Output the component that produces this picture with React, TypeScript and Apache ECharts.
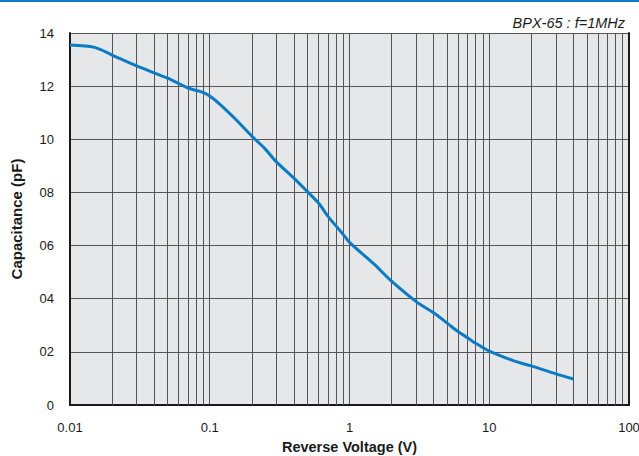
import React, { useEffect, useRef } from "react";
import * as echarts from "echarts";

const voltage = [0.01, 0.015, 0.02, 0.03, 0.04, 0.05, 0.06, 0.07, 0.08, 0.09, 0.1, 0.12, 0.15, 0.2, 0.25, 0.3, 0.4, 0.5, 0.6, 0.7, 0.8, 0.9, 1, 1.5, 2, 3, 4, 5, 6, 7, 8, 9, 10, 15, 20, 30, 40];
const capacitance = [13.55, 13.46, 13.17, 12.76, 12.5, 12.3, 12.1, 11.93, 11.84, 11.76, 11.63, 11.29, 10.8, 10.12, 9.63, 9.15, 8.54, 8.03, 7.6, 7.11, 6.74, 6.42, 6.12, 5.3, 4.66, 3.89, 3.47, 3.08, 2.76, 2.53, 2.32, 2.16, 2.03, 1.66, 1.47, 1.17, 0.98];
const decades = [0.01, 0.1, 1, 10];
const multipliers = [2, 3, 4, 5, 6, 7, 8, 9];
const yTicks = [0, 2, 4, 6, 8, 10, 12, 14];
const titleText = "BPX-65 : f=1MHz";
const xName = "Reverse Voltage (V)";
const yName = "Capacitance (pF)";

const FONT = "'Liberation Sans', Arial, Helvetica, sans-serif";

export default function App() {
  const ref = useRef<HTMLDivElement>(null);
  useEffect(() => {
    if (!ref.current) return;
    const chart = echarts.init(ref.current, null, { renderer: "svg" });
    const minorLines: any[] = [];
    decades.forEach((d) => multipliers.forEach((m) => minorLines.push({ xAxis: +(d * m).toPrecision(3) })));
    const gridColor = "#555555";
    chart.setOption({
      animation: false,
      backgroundColor: "#ffffff",
      textStyle: { fontFamily: FONT },
      title: {
        text: titleText,
        right: 9,
        top: 10,
        textStyle: { fontFamily: FONT, fontStyle: "italic", fontWeight: "normal", fontSize: 14.5, color: "#1a1a1a" },
      },
      graphic: [
        { type: "rect", shape: { x: 0, y: 0, width: 639, height: 2 }, style: { fill: "#0a7bc4" } },
      ],
      grid: {
        left: 70,
        right: 10,
        top: 33,
        bottom: 51,
        show: true,
        backgroundColor: "#e6e7e9",
        borderWidth: 0,
        outerBoundsMode: "none",
        containLabel: false,
      },
      xAxis: [
        {
          type: "log",
          logBase: 10,
          min: 0.01,
          max: 100,
          name: xName,
          nameLocation: "middle",
          nameGap: 34,
          nameMoveOverlap: false,
          nameTextStyle: { fontFamily: FONT, fontWeight: "bold", fontSize: 14.5, color: "#1a1a1a" },
          axisLine: { show: true, lineStyle: { color: "#1a1a1a", width: 2 } },
          axisTick: { show: false },
          axisLabel: {
            margin: 16,
            fontFamily: FONT,
            fontSize: 13,
            color: "#1a1a1a",
            formatter: (v: number) => String(+(+v).toPrecision(3)),
          },
          splitLine: { show: true, lineStyle: { color: gridColor, width: 1 } },
          minorTick: { show: false },
        },
        {
          type: "log",
          logBase: 10,
          min: 0.01,
          max: 100,
          position: "top",
          axisLine: { show: true, lineStyle: { color: "#1a1a1a", width: 2 } },
          axisTick: { show: false },
          axisLabel: { show: false },
          splitLine: { show: false },
        },
      ],
      yAxis: [
        {
          type: "value",
          min: 0,
          max: 14,
          interval: 2,
          name: yName,
          nameLocation: "middle",
          nameGap: 46,
          nameMoveOverlap: false,
          nameTextStyle: { fontFamily: FONT, fontWeight: "bold", fontSize: 15, color: "#1a1a1a" },
          axisLine: { show: true, lineStyle: { color: "#1a1a1a", width: 2 } },
          axisTick: { show: false },
          axisLabel: {
            margin: 16,
            fontFamily: FONT,
            fontSize: 13,
            color: "#1a1a1a",
            formatter: (v: number) => {
              const t = yTicks.find((k) => Math.abs(k - v) < 1e-6);
              const val = t === undefined ? v : t;
              if (val === 0) return "0";
              return val < 10 ? "0" + val : String(val);
            },
          },
          splitLine: { show: true, lineStyle: { color: gridColor, width: 1 } },
        },
        {
          type: "value",
          min: 0,
          max: 14,
          interval: 2,
          position: "right",
          axisLine: { show: true, lineStyle: { color: "#1a1a1a", width: 2 } },
          axisTick: { show: false },
          axisLabel: { show: false },
          splitLine: { show: false },
        },
      ],
      series: [
        {
          type: "line",
          xAxisIndex: 0,
          yAxisIndex: 0,
          data: voltage.map((v, i) => [v, capacitance[i]]),
          smooth: 0.3,
          showSymbol: false,
          symbol: "none",
          lineStyle: { color: "#0a7bc4", width: 3 },
          z: 5,
          markLine: {
            silent: true,
            symbol: "none",
            label: { show: false },
            animation: false,
            lineStyle: { color: gridColor, width: 1, type: "solid" },
            data: minorLines,
            z: 1,
          },
        },
      ],
    });
    return () => chart.dispose();
  }, []);
  return <div ref={ref} style={{ position: "absolute", left: 0, top: 0, width: 639, height: 456 }} />;
}
